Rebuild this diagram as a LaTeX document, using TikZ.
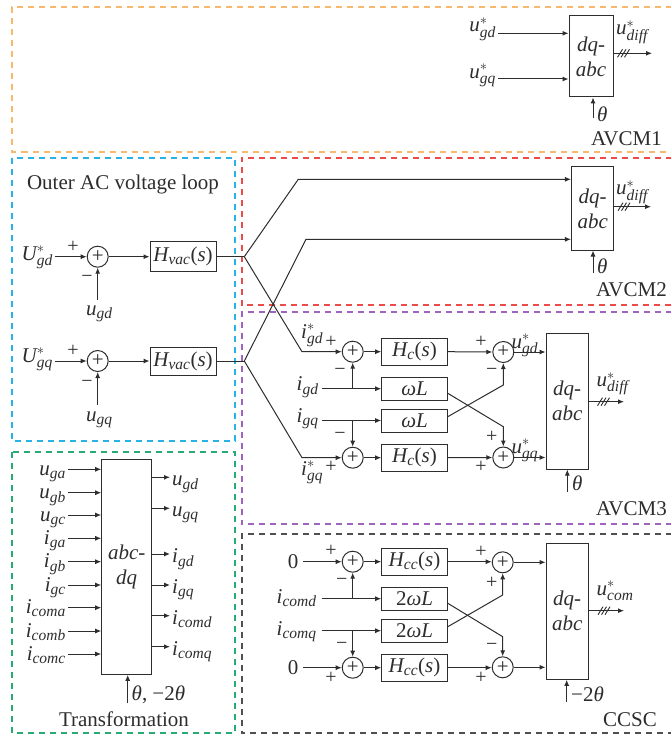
\documentclass[tikz,border=0pt]{standalone}
\usepackage{fontspec}
\setmainfont{Liberation Serif}
\usetikzlibrary{arrows.meta,calc}
\DeclareMathSizes{21}{21}{15.5}{11}
\definecolor{cOr}{RGB}{248,185,110}
\definecolor{cBl}{RGB}{40,178,232}
\definecolor{cRd}{RGB}{236,75,75}
\definecolor{cPu}{RGB}{158,100,190}
\definecolor{cGr}{RGB}{40,172,115}
\definecolor{cBk}{RGB}{80,80,80}
\definecolor{ink}{RGB}{45,45,45}
\newcommand{\sgs}[2]{$\mathit{#1}^{*}_{\mathit{#2}}$}
\newcommand{\sgn}[2]{$\mathit{#1}_{\mathit{#2}}$}
\tikzset{
  ln/.style={draw=ink,line width=1pt},
  arr/.style={ln,-{Latex[length=6pt,width=5pt]}},
  blk/.style={draw=ink,line width=1pt,rectangle,inner sep=0pt,text=ink,align=center},
  sumc/.style={draw=ink,line width=1pt,circle,minimum size=21pt,inner sep=0pt,text=ink},
  lbl/.style={inner sep=0pt,text=ink},
  pm/.style={inner sep=0pt,text=ink,font=\fontsize{20}{20}\selectfont},
  dbox/.style={line width=2pt,dash pattern=on 6pt off 5pt},
  tick/.style={draw=ink,line width=0.9pt},
}
\begin{document}
\begin{tikzpicture}[x=1pt,y=-1pt,font=\fontsize{21}{25}\selectfont]
\useasboundingbox (0,0) rectangle (670,735);
% ---------- dashed frames
\draw[dbox,cOr] (672,7.5) -- (12,7.5) -- (12,152) -- (672,152);
\draw[dbox,cBl] (12,158) rectangle (235,441);
\draw[dbox,cRd] (672,158) -- (241.5,158) -- (241.5,305) -- (672,305);
\draw[dbox,cPu] (672,312) -- (241.5,312) -- (241.5,524) -- (672,524);
\draw[dbox,cGr] (12,452) rectangle (235,733);
\draw[dbox,cBk] (672,534) -- (241.5,534) -- (241.5,733) -- (672,733);

% ---------- AVCM1
\node[blk,minimum width=44pt,minimum height=81pt] (A1) at (591,56.5) {\textit{dq-}\\\textit{abc}};
\coordinate (a1g) at (498,33.3);
\coordinate (a1q) at (498,79);
\node[lbl,anchor=base east] (la1g) at (496,32) {\sgs{u}{gd}};
\node[lbl,anchor=base east] (la1q) at (496,78.5) {\sgs{u}{gq}};
\draw[arr] (a1g) -- (a1g -| A1.west);
\draw[arr] (a1q) -- (a1q -| A1.west);
\coordinate (a1o) at ($(A1.east)+(0,-3.2)$);
\coordinate (a1e) at (652,53.3);
\draw[arr] (a1o) -- (a1e);
\foreach \dx in {-3.5,0,3.5} \draw[tick] ($(623.5,53.3)+(\dx-2.5,4)$) -- ($(623.5,53.3)+(\dx+2.5,-4)$);
\node[lbl,anchor=base west] (la1d) at (616,35) {\sgs{u}{diff}};
\coordinate (a1t) at (593,118);
\draw[arr] (a1t) -- (a1t |- A1.south);
\node[lbl,anchor=base west] (la1t) at (597,121.5) {\textit{θ}};
\node[lbl,anchor=base east] (lav1) at (662,146) {AVCM1};

% ---------- Outer AC voltage loop
\node[lbl] (title) at (123,184) {Outer AC voltage loop};
\node[sumc] (S1) at (97.7,256.7) {+};
\node[sumc] (S2) at (97.7,361) {+};
\node[blk,minimum width=66pt,minimum height=30pt] (H1) at (183,256.7) {\sgn{H}{vac}(\textit{s})};
\node[blk,minimum width=66pt,minimum height=28pt] (H2) at (183,361) {\sgn{H}{vac}(\textit{s})};
\node[lbl,anchor=base east] (lU1) at (53,260) {\sgs{U}{gd}};
\node[lbl,anchor=base east] (lU2) at (53,362) {\sgs{U}{gq}};
\coordinate (u1s) at (55,256.7);
\coordinate (u2s) at (55,361);
\draw[arr] (u1s) -- (S1.west);
\draw[arr] (u2s) -- (S2.west);
\node[pm] (p1) at (73,246.7) {+};
\node[pm] (m1) at (87,279) {−};
\node[pm] (p2) at (73,351) {+};
\node[pm] (m2) at (87,384) {−};
\coordinate (f1) at (97.7,300);
\coordinate (f2) at (97.7,405);
\draw[arr] (f1) -- (S1.south);
\draw[arr] (f2) -- (S2.south);
\node[lbl,anchor=base west] (lug1) at (86,315) {\sgn{u}{gd}};
\node[lbl,anchor=base west] (lug2) at (86,421) {\sgn{u}{gq}};
\draw[arr] (S1.east) -- (H1.west);
\draw[arr] (S2.east) -- (H2.west);

% ---------- AVCM2
\node[blk,minimum width=42.5pt,minimum height=83pt] (A2) at (592.7,208.5) {\textit{dq-}\\\textit{abc}};
\coordinate (J1) at (244.3,256.7);
\coordinate (J2) at (244.3,361);
\coordinate (K1) at (298.3,179.3);
\coordinate (K2) at (306,239.3);
\coordinate (M1) at (302,351.7);
\coordinate (M2) at (302,457.7);
\draw[ln] (H1.east) -- (J1);
\draw[ln] (H2.east) -- (J2);
\draw[arr] (J1) -- (K1) -- (K1 -| A2.west);
\draw[arr] (J2) -- (K2) -- (K2 -| A2.west);
\coordinate (a2o) at ($(A2.east)+(0,-1.8)$);
\coordinate (a2e) at (651,206.7);
\draw[arr] (a2o) -- (a2e);
\foreach \dx in {-3.5,0,3.5} \draw[tick] ($(624,206.7)+(\dx-2.5,4)$) -- ($(624,206.7)+(\dx+2.5,-4)$);
\node[lbl,anchor=base west] (la2d) at (616,195) {\sgs{u}{diff}};
\coordinate (a2t) at (593,272.7);
\draw[arr] (a2t) -- (a2t |- A2.south);
\node[lbl,anchor=base west] (la2t) at (597,273) {\textit{θ}};
\node[lbl,anchor=base east] (lav2) at (667,296.7) {AVCM2};

% ---------- AVCM3
\node[sumc] (Sa) at (352.7,351.7) {+};
\node[sumc] (Sb) at (352.7,457.7) {+};
\node[sumc] (Sc) at (503.3,352) {+};
\node[sumc] (Sd) at (503.3,457.5) {+};
\node[blk,minimum width=65.6pt,minimum height=27pt] (Hc1) at (414.5,351.7) {\sgn{H}{c}(\textit{s})};
\node[blk,minimum width=65.6pt,minimum height=23pt] (W1) at (414.5,388.7) {\textit{ωL}};
\node[blk,minimum width=65.6pt,minimum height=23pt] (W2) at (414.5,420.5) {\textit{ωL}};
\node[blk,minimum width=65.6pt,minimum height=27pt] (Hc2) at (414.5,457.7) {\sgn{H}{c}(\textit{s})};
\node[blk,minimum width=42.3pt,minimum height=135.7pt] (B3) at (567.2,401.2) {\textit{dq-}\\\textit{abc}};
\draw[arr] (J1) -- (M1) -- (Sa.west);
\draw[arr] (J2) -- (M2) -- (Sb.west);
\node[lbl,anchor=base west] (lig1) at (301,338) {\sgs{i}{gd}};
\node[lbl,anchor=base west] (lig2) at (301,475) {\sgs{i}{gq}};
\node[lbl,anchor=base west] (lid) at (296.5,390.5) {\sgn{i}{gd}};
\node[lbl,anchor=base west] (liq) at (296.5,422) {\sgn{i}{gq}};
\coordinate (id0) at (321.7,388.7);
\coordinate (iq0) at (321.7,420.5);
\draw[arr] (id0) -- (W1.west);
\draw[arr] (iq0) -- (W2.west);
\coordinate (idb) at (352.7,388.7);
\coordinate (iqb) at (352.7,420.5);
\draw[arr] (idb) -- (Sa.south);
\draw[arr] (iqb) -- (Sb.north);
\draw[arr] (Sa.east) -- (Hc1.west);
\draw[arr] (Sb.east) -- (Hc2.west);
\draw[arr] (Hc1.east) -- (Sc.west);
\draw[arr] (Hc2.east) -- (Sd.west);
\coordinate (w1o) at ($(W1.east)+(0,4.6)$);
\coordinate (w2o) at ($(W2.east)+(0,-3.8)$);
\coordinate (c1) at (503.3,426.7);
\coordinate (c2) at (503.3,385);
\draw[arr] (w1o) -- (c1) -- (Sd.north);
\draw[arr] (w2o) -- (c2) -- (Sc.south);
\draw[arr] (Sc.east) -- (Sc.east -| B3.west);
\draw[arr] (Sd.east) -- (Sd.east -| B3.west);
\node[pm] (pa) at (331,341.7) {+};
\node[pm] (ma) at (340,372) {−};
\node[pm] (mb) at (340,435.7) {−};
\node[pm] (pb) at (331,466.7) {+};
\node[pm] (pc) at (481,341.7) {+};
\node[pm] (mc) at (491.7,371.7) {−};
\node[pm] (pd1) at (491.7,436.7) {+};
\node[pm] (pd2) at (481,466.7) {+};
\node[lbl,anchor=base west] (lugd) at (511.5,348.3) {\sgs{u}{gd}};
\node[lbl,anchor=base west] (lugq) at (511.5,453) {\sgs{u}{gq}};
\coordinate (b3o) at (588.3,401.7);
\coordinate (b3e) at (624,401.7);
\draw[arr] (b3o) -- (b3e);
\foreach \dx in {-3.5,0,3.5} \draw[tick] ($(603.5,401.7)+(\dx-2.5,4)$) -- ($(603.5,401.7)+(\dx+2.5,-4)$);
\node[lbl,anchor=base west] (lb3d) at (596.5,386.7) {\sgs{u}{diff}};
\coordinate (b3t) at (567.3,491.7);
\draw[arr] (b3t) -- (b3t |- B3.south);
\node[lbl,anchor=base west] (lb3t) at (572,490) {\textit{θ}};
\node[lbl,anchor=base east] (lav3) at (667,515) {AVCM3};

% ---------- CCSC
\node[sumc] (Se) at (352.7,561.7) {+};
\node[sumc] (Sf) at (352.7,667.7) {+};
\node[sumc] (Sg) at (502.7,562.3) {+};
\node[sumc] (Sh) at (502.7,667.3) {+};
\node[blk,minimum width=65.6pt,minimum height=27pt] (Hd1) at (414.5,561.7) {\sgn{H}{cc}(\textit{s})};
\node[blk,minimum width=65.6pt,minimum height=23pt] (V1) at (414.5,598.7) {2\textit{ωL}};
\node[blk,minimum width=65.6pt,minimum height=23pt] (V2) at (414.5,630.7) {2\textit{ωL}};
\node[blk,minimum width=65.6pt,minimum height=27pt] (Hd2) at (414.5,667.7) {\sgn{H}{cc}(\textit{s})};
\node[blk,minimum width=42.3pt,minimum height=136pt] (B4) at (567.2,611.3) {\textit{dq-}\\\textit{abc}};
\node[lbl,anchor=base east] (z1) at (298.5,568.3) {0};
\node[lbl,anchor=base east] (z2) at (298.5,674.5) {0};
\coordinate (z1o) at (303.3,561.7);
\coordinate (z2o) at (303.3,667.7);
\draw[arr] (z1o) -- (Se.west);
\draw[arr] (z2o) -- (Sf.west);
\node[lbl,anchor=base west] (licd) at (276.5,603) {\sgn{i}{comd}};
\node[lbl,anchor=base west] (licq) at (276.5,635) {\sgn{i}{comq}};
\coordinate (cd0) at (321.7,598.7);
\coordinate (cq0) at (321.7,630.7);
\draw[arr] (cd0) -- (V1.west);
\draw[arr] (cq0) -- (V2.west);
\coordinate (cdb) at (352.7,598.7);
\coordinate (cqb) at (352.7,630.7);
\draw[arr] (cdb) -- (Se.south);
\draw[arr] (cqb) -- (Sf.north);
\draw[arr] (Se.east) -- (Hd1.west);
\draw[arr] (Sf.east) -- (Hd2.west);
\draw[arr] (Hd1.east) -- (Hd1.east -| Sg.west);
\draw[arr] (Hd2.east) -- (Hd2.east -| Sh.west);
\coordinate (v1o) at ($(V1.east)+(0,4.6)$);
\coordinate (v2o) at ($(V2.east)+(0,-4)$);
\coordinate (c3) at (502.7,636.7);
\coordinate (c4) at (502.7,595);
\draw[arr] (v1o) -- (c3) -- (Sh.north);
\draw[arr] (v2o) -- (c4) -- (Sg.south);
\draw[arr] (Sg.east) -- (Sg.east -| B4.west);
\draw[arr] (Sh.east) -- (Sh.east -| B4.west);
\node[pm] (pe) at (331,551) {+};
\node[pm] (me) at (341.7,582.3) {−};
\node[pm] (mf) at (341.7,646) {−};
\node[pm] (pf) at (331,678) {+};
\node[pm] (pg1) at (481,551.7) {+};
\node[pm] (pg2) at (491.7,583) {+};
\node[pm] (mh) at (491.7,646.7) {−};
\node[pm] (ph) at (481,678) {+};
\coordinate (b4o) at (588.3,610.7);
\coordinate (b4e) at (624,610.7);
\draw[arr] (b4o) -- (b4e);
\foreach \dx in {-3.5,0,3.5} \draw[tick] ($(604,610.7)+(\dx-2.5,4)$) -- ($(604,610.7)+(\dx+2.5,-4)$);
\node[lbl,anchor=base west] (lb4c) at (596.5,595) {\sgs{u}{com}};
\coordinate (b4t) at (566.7,701.7);
\draw[arr] (b4t) -- (b4t |- B4.south);
\node[lbl,anchor=base west] (lb4t) at (571,701.7) {−2\textit{θ}};
\node[lbl,anchor=base east] (lccsc) at (657,726.7) {CCSC};

% ---------- Transformation
\node[blk,minimum width=50pt,minimum height=215.3pt] (T) at (126.7,566.7) {\textit{abc-}\\\textit{dq}};
\foreach \y/\b/\s [count=\k] in {469.3/u/ga,492.7/u/gb,515/u/gc,538.3/i/ga,561.7/i/gb,585/i/gc,607.7/i/coma,631/i/comb,654/i/comc}{
  \coordinate (ti\k) at (68.3,\y);
  \node[lbl,anchor=base east] (lti\k) at (66,\y+6) {\sgn{\b}{\s}};
  \draw[arr] (ti\k) -- (ti\k -| T.west);
}
\foreach \y/\b/\s [count=\k] in {477.3/u/gd,508.3/u/gq,554/i/gd,585/i/gq,615.7/i/comd,646.7/i/comq}{
  \coordinate (to\k) at (170,\y);
  \node[lbl,anchor=base west] (lto\k) at (172,\y+8.5) {\sgn{\b}{\s}};
  \draw[arr] (to\k -| T.east) -- (to\k);
}
\coordinate (tt) at (127.7,703);
\draw[arr] (tt) -- (tt |- T.south);
\node[lbl,anchor=base west] (ltt) at (131.5,700) {\textit{θ}, −2\textit{θ}};
\node[lbl,anchor=base] (ltr) at (124,726.7) {Transformation};
\end{tikzpicture}
\end{document}
